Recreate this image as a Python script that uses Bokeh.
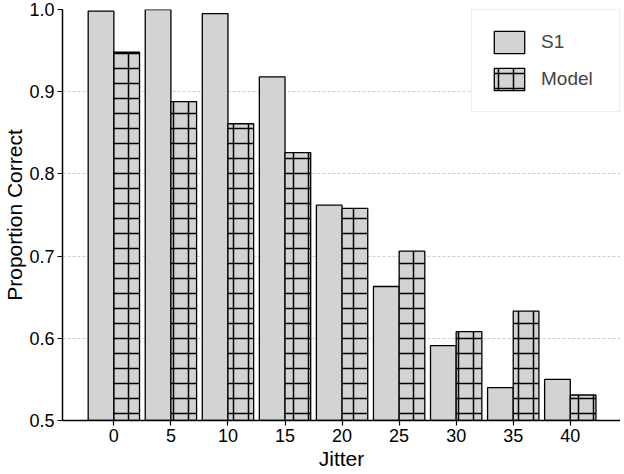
from bokeh.plotting import figure
from bokeh.models import ColumnDataSource, Range1d, FixedTicker, Legend, LegendItem, NumeralTickFormatter
from bokeh.transform import dodge
from bokeh.embed import file_html
from bokeh.resources import INLINE

jitter = [0, 5, 10, 15, 20, 25, 30, 35, 40]
s1 = [0.998, 1.000, 0.995, 0.918, 0.762, 0.663, 0.591, 0.540, 0.550]
model = [0.948, 0.888, 0.861, 0.826, 0.758, 0.706, 0.608, 0.633, 0.531]
x_ticks = [0, 5, 10, 15, 20, 25, 30, 35, 40]
y_ticks = [0.5, 0.6, 0.7, 0.8, 0.9, 1.0]

FONT = "Liberation Sans"
BAR_W = 2.25

src = ColumnDataSource(dict(jitter=jitter, s1=s1, model=model))

p = figure(width=620, height=472, output_backend="svg", toolbar_location=None,
           x_range=Range1d(-4.5, 44.4), y_range=Range1d(0.5, 1.0),
           min_border_left=56, min_border_right=0, min_border_top=9, min_border_bottom=44)

r1 = p.vbar(x=dodge("jitter", -BAR_W / 2), width=BAR_W, top="s1", bottom=0.5, source=src,
            fill_color="#d3d3d3", line_color="black", line_width=1.3)
r2 = p.vbar(x=dodge("jitter", BAR_W / 2), width=BAR_W, top="model", bottom=0.5, source=src,
            fill_color="#d3d3d3", line_color="black", line_width=1.3,
            hatch_pattern="+", hatch_color="black", hatch_weight=1.5, hatch_scale=15)

p.outline_line_color = None
p.xgrid.grid_line_color = None
p.ygrid.grid_line_color = "#cfcfcf"
p.ygrid.grid_line_dash = "3 2"
p.ygrid.grid_line_width = 1

p.xaxis.ticker = FixedTicker(ticks=x_ticks)
p.yaxis.ticker = FixedTicker(ticks=y_ticks)
p.yaxis.formatter = NumeralTickFormatter(format="0.0")
p.xaxis.axis_label = "Jitter"
p.yaxis.axis_label = "Proportion Correct"

for ax in (p.xaxis, p.yaxis):
    ax.axis_line_color = "black"
    ax.axis_line_width = 1.5
    ax.major_tick_line_color = "black"
    ax.major_tick_line_width = 1.2
    ax.major_tick_out = 5
    ax.major_tick_in = 0
    ax.minor_tick_line_color = None
    ax.major_label_text_font = FONT
    ax.major_label_text_font_size = "18px"
    ax.major_label_text_color = "black"
    ax.major_label_standoff = 3
    ax.axis_label_text_font = FONT
    ax.axis_label_text_font_size = "21px"
    ax.axis_label_text_font_style = "normal"
    ax.axis_label_text_color = "black"
    ax.axis_label_standoff = 0
p.xaxis.major_label_standoff = 3
p.xaxis.axis_label_standoff = 2

legend = Legend(items=[LegendItem(label="S1", renderers=[r1]),
                       LegendItem(label="Model", renderers=[r2])],
                location="top_right", margin=0, padding=18, spacing=9,
                glyph_width=38, glyph_height=28, label_standoff=13, label_width=60,
                label_text_font=FONT, label_text_font_size="19px",
                border_line_color="#dddddd", border_line_width=1,
                background_fill_color="white", background_fill_alpha=1.0)
p.add_layout(legend)

open("out.html", "w").write(file_html(p, INLINE))
